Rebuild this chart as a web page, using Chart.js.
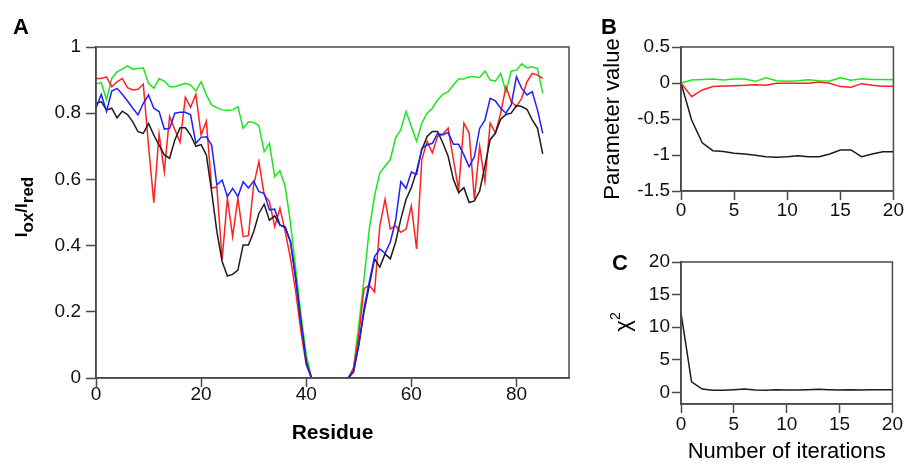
<!DOCTYPE html>
<html>
<head>
<meta charset="utf-8">
<title>Redox titration fit</title>
<script src="https://cdn.jsdelivr.net/npm/chart.js@4.4.0/dist/chart.umd.min.js"></script>
<style>
  html, body { margin: 0; padding: 0; background: #fff; }
  #wrap { position: relative; width: 905px; height: 468px; overflow: hidden; }
  #wrap canvas { position: absolute; }
</style>
</head>
<body>
<div id="wrap">
  <canvas id="chartA" width="600" height="468" style="left:0;top:0"></canvas>
  <canvas id="chartB" width="305" height="234" style="left:600px;top:0"></canvas>
  <canvas id="chartC" width="305" height="234" style="left:600px;top:234px"></canvas>
</div>
<script>
// ---- Panel A: Iox/Ired per residue (null = no data) ----
const residues = [
  0, 1, 2, 3, 4, 5, 6, 7, 8, 9, 10, 11, 12, 13, 14, 15, 16, 17, 18, 19, 20,
  21, 22, 23, 24, 25, 26, 27, 28, 29, 30, 31, 32, 33, 34, 35, 36, 37, 38, 39, 40,
  41, 42, 43, 44, 45, 46, 47, 48, 49, 50, 51, 52, 53, 54, 55, 56, 57, 58, 59, 60,
  61, 62, 63, 64, 65, 66, 67, 68, 69, 70, 71, 72, 73, 74, 75, 76, 77, 78, 79, 80,
  81, 82, 83, 84, 85
];
const ratioBlack = [
  0.83, 0.835, 0.81, 0.815, 0.786, 0.806, 0.796, 0.774, 0.744, 0.739, 0.769, 0.734, 0.704, 0.674, 0.664, 0.719, 0.756, 0.756, 0.734, 0.70, 0.705,
  0.674, 0.563, 0.442, 0.352, 0.308, 0.313, 0.326, 0.402, 0.402, 0.442, 0.497, 0.525, 0.477, 0.49, 0.462, 0.457, 0.412, 0.30, 0.17, 0.05,
  0.0, null, null, null, null, null, null, 0.0, 0.02, 0.10, 0.20, 0.28, 0.36, 0.335, 0.375, 0.36, 0.41, 0.48, 0.54, 0.575,
  0.625, 0.69, 0.73, 0.745, 0.745, 0.71, 0.67, 0.60, 0.56, 0.575, 0.53, 0.535, 0.565, 0.64, 0.72, 0.74, 0.782, 0.796, 0.80, 0.823,
  0.82, 0.812, 0.78, 0.755, 0.677
];
const ratioRed = [
  0.905, 0.905, 0.91, 0.88, 0.895, 0.905, 0.877, 0.87, 0.872, 0.888, 0.70, 0.53, 0.737, 0.623, 0.79, 0.75, 0.712, 0.848, 0.818, 0.857, 0.734,
  0.776, 0.574, 0.577, 0.358, 0.543, 0.427, 0.543, 0.427, 0.43, 0.583, 0.654, 0.553, 0.533, 0.457, 0.513, 0.442, 0.362, 0.261, 0.14, 0.04,
  0.0, null, null, null, null, null, null, 0.0, 0.03, 0.13, 0.27, 0.28, 0.26, 0.46, 0.54, 0.45, 0.46, 0.44, 0.45, 0.52,
  0.39, 0.66, 0.715, 0.68, 0.73, 0.737, 0.755, 0.66, 0.568, 0.77, 0.74, 0.54, 0.70, 0.593, 0.77, 0.74, 0.80, 0.88, 0.835, 0.82,
  0.845, 0.895, 0.92, 0.915, 0.905
];
const ratioGreen = [
  0.887, 0.893, 0.84, 0.905, 0.925, 0.933, 0.943, 0.933, 0.935, 0.937, 0.89, 0.875, 0.904, 0.897, 0.88, 0.88, 0.885, 0.89, 0.885, 0.867, 0.895,
  0.855, 0.825, 0.817, 0.81, 0.808, 0.81, 0.82, 0.754, 0.774, 0.772, 0.762, 0.684, 0.709, 0.608, 0.626, 0.578, 0.47, 0.33, 0.19, 0.07,
  0.0, null, null, null, null, null, null, 0.0, 0.03, 0.16, 0.30, 0.45, 0.55, 0.62, 0.64, 0.66, 0.725, 0.75, 0.805, 0.76,
  0.715, 0.77, 0.80, 0.815, 0.84, 0.857, 0.865, 0.885, 0.903, 0.903, 0.91, 0.91, 0.908, 0.927, 0.90, 0.897, 0.92, 0.865, 0.927, 0.93,
  0.949, 0.937, 0.94, 0.935, 0.86
];
const ratioBlue = [
  0.815, 0.857, 0.805, 0.867, 0.875, 0.857, 0.837, 0.815, 0.795, 0.83, 0.855, 0.815, 0.805, 0.752, 0.754, 0.80, 0.803, 0.803, 0.795, 0.709, 0.727,
  0.729, 0.704, 0.583, 0.598, 0.548, 0.573, 0.548, 0.593, 0.574, 0.595, 0.563, 0.558, 0.508, 0.51, 0.462, 0.454, 0.412, 0.30, 0.17, 0.045,
  0.0, null, null, null, null, null, null, 0.0, 0.018, 0.10, 0.21, 0.29, 0.366, 0.39, 0.377, 0.411, 0.475, 0.593, 0.573, 0.622,
  0.615, 0.694, 0.704, 0.709, 0.739, 0.734, 0.742, 0.706, 0.706, 0.674, 0.638, 0.669, 0.754, 0.779, 0.845, 0.837, 0.815, 0.80, 0.825, 0.91,
  0.875, 0.855, 0.865, 0.81, 0.739
];
const residueTicks = [0, 20, 40, 60, 80];
const ratioTicks = [0, 0.2, 0.4, 0.6, 0.8, 1];

// ---- Panels B and C: fit convergence ----
const iterations = [0, 1, 2, 3, 4, 5, 6, 7, 8, 9, 10, 11, 12, 13, 14, 15, 16, 17, 18, 19, 20];
const paramBlack = [0, -0.514, -0.83, -0.94, -0.95, -0.977, -0.986, -1.005, -1.023, -1.03, -1.023, -1.01, -1.023, -1.023, -0.986, -0.93, -0.93, -1.023, -0.986, -0.954, -0.954];
const paramRed = [0, -0.19, -0.097, -0.05, -0.042, -0.037, -0.032, -0.023, -0.032, -0.005, -0.005, -0.005, -0.005, 0.014, -0.005, -0.05, -0.06, -0.009, -0.03, -0.046, -0.046];
const paramGreen = [0, 0.042, 0.05, 0.056, 0.042, 0.056, 0.056, 0.023, 0.074, 0.032, 0.023, 0.032, 0.046, 0.032, 0.028, 0.074, 0.037, 0.06, 0.05, 0.05, 0.046];
const chiSquare = [12.2, 1.6, 0.5, 0.3, 0.3, 0.4, 0.5, 0.35, 0.3, 0.4, 0.35, 0.35, 0.4, 0.45, 0.4, 0.35, 0.4, 0.35, 0.4, 0.4, 0.4];
const iterTicks = [0, 5, 10, 15, 20];
const paramTicks = [-1.5, -1, -0.5, 0, 0.5];
const chiTicks = [0, 5, 10, 15, 20];

const FONT = '"Liberation Sans", Arial, Helvetica, sans-serif';
const AXIS_COLOR = '#4a4a4a';
const COLORS = { black: '#1c1c1c', red: '#ff2020', green: '#1ee61e', blue: '#1f1fff' };

function series(xs, ys, color) {
  return {
    data: xs.map((x, i) => ({ x: x, y: ys[i] })),
    borderColor: color,
    borderWidth: 1.5,
    pointRadius: 0,
    tension: 0,
    spanGaps: false
  };
}

function fmt(v) {
  return String(+v.toFixed(2));
}

// box around the plot area + any extra text for the panel
function framePlugin(drawExtra) {
  return {
    id: 'frame',
    afterDraw(chart) {
      const { ctx, chartArea: a } = chart;
      ctx.save();
      ctx.strokeStyle = AXIS_COLOR;
      ctx.lineWidth = 1.5;
      ctx.strokeRect(a.left, a.top, a.right - a.left, a.bottom - a.top);
      ctx.restore();
      if (drawExtra) drawExtra(ctx);
    }
  };
}

// draws pieces of rotated text with sub/superscripts
function drawRotated(ctx, cx, cy, parts) {
  ctx.save();
  ctx.translate(cx, cy);
  ctx.rotate(-Math.PI / 2);
  ctx.fillStyle = '#000';
  ctx.textBaseline = 'alphabetic';
  ctx.textAlign = 'left';
  let total = 0;
  parts.forEach(p => { ctx.font = p.font; total += ctx.measureText(p.t).width; });
  let x = -total / 2;
  parts.forEach(p => {
    ctx.font = p.font;
    ctx.fillText(p.t, x, p.dy || 0);
    x += ctx.measureText(p.t).width;
  });
  ctx.restore();
}

function drawLetter(ctx, letter, x, y) {
  ctx.save();
  ctx.font = 'bold 22px ' + FONT;
  ctx.fillStyle = '#000';
  ctx.textBaseline = 'alphabetic';
  ctx.fillText(letter, x, y);
  ctx.restore();
}

function buildChart(canvasId, cfg) {
  const tickFont = { family: FONT, size: 19, lineHeight: 1 };
  return new Chart(document.getElementById(canvasId), {
    type: 'line',
    data: { datasets: cfg.datasets },
    options: {
      responsive: false,
      animation: false,
      devicePixelRatio: 1,
      layout: { padding: cfg.padding },
      plugins: { legend: { display: false }, tooltip: { enabled: false } },
      scales: {
        x: {
          type: 'linear',
          min: cfg.xMin, max: cfg.xMax,
          afterBuildTicks: ax => { ax.ticks = cfg.xTicks.map(v => ({ value: v })); },
          afterFit: ax => { ax.height = cfg.xAxisHeight; },
          grid: { drawOnChartArea: false, drawTicks: true, tickLength: 9, color: AXIS_COLOR, tickWidth: 1.5 },
          border: { display: true, color: AXIS_COLOR, width: 1.5 },
          ticks: { font: tickFont, color: '#111', padding: cfg.xTickPad, maxRotation: 0, autoSkip: false, callback: fmt },
          title: cfg.xTitle || { display: false }
        },
        y: {
          type: 'linear',
          min: cfg.yMin, max: cfg.yMax,
          afterBuildTicks: ax => { ax.ticks = cfg.yTicks.map(v => ({ value: v })); },
          afterFit: ax => { ax.width = cfg.yAxisWidth; },
          grid: { drawOnChartArea: false, drawTicks: true, tickLength: cfg.yTickLen, color: AXIS_COLOR, tickWidth: 1.5 },
          border: { display: true, color: AXIS_COLOR, width: 1.5 },
          ticks: { font: tickFont, color: '#111', padding: cfg.yTickPad, autoSkip: false, callback: fmt },
          title: cfg.yTitle || { display: false }
        }
      }
    },
    plugins: [framePlugin(cfg.extra)]
  });
}

// Panel A
buildChart('chartA', {
  datasets: [
    series(residues, ratioBlue, COLORS.blue),
    series(residues, ratioBlack, COLORS.black),
    series(residues, ratioRed, COLORS.red),
    series(residues, ratioGreen, COLORS.green)
  ],
  padding: { left: 0, top: 47, right: 31, bottom: 0 },
  xMin: 0, xMax: 90, xTicks: residueTicks, xAxisHeight: 90, xTickPad: -2,
  yMin: 0, yMax: 1, yTicks: ratioTicks, yAxisWidth: 96, yTickLen: 10, yTickPad: 5,
  xTitle: { display: true, text: 'Residue', color: '#000', font: { family: FONT, size: 21, weight: 'bold', lineHeight: 1.2 }, padding: { top: 0, bottom: 22 } },
  extra: ctx => {
    drawLetter(ctx, 'A', 13, 34);
    const big = 'bold 17px ' + FONT;
    drawRotated(ctx, 27, 207, [
      { t: 'I', font: big }, { t: 'ox', font: big, dy: 6 },
      { t: '/', font: big }, { t: 'I', font: big }, { t: 'red', font: big, dy: 6 }
    ]);
  }
});

// Panel B
buildChart('chartB', {
  datasets: [
    series(iterations, paramGreen, COLORS.green),
    series(iterations, paramRed, COLORS.red),
    series(iterations, paramBlack, COLORS.black)
  ],
  padding: { left: 0, top: 47, right: 10, bottom: 0 },
  xMin: 0, xMax: 20, xTicks: iterTicks, xAxisHeight: 43, xTickPad: 1,
  yMin: -1.5, yMax: 0.5, yTicks: paramTicks, yAxisWidth: 81, yTickLen: 9, yTickPad: 2,
  yTitle: { display: true, text: 'Parameter value', color: '#000', font: { family: FONT, size: 22, lineHeight: 1.2 }, padding: { top: 0, bottom: 0 } },
  extra: ctx => drawLetter(ctx, 'B', 1, 34)
});

// Panel C
buildChart('chartC', {
  datasets: [series(iterations, chiSquare, COLORS.black)],
  padding: { left: 0, top: 28, right: 10, bottom: 0 },
  xMin: 0, xMax: 20, xTicks: iterTicks, xAxisHeight: 64, xTickPad: 2,
  yMin: -1.8, yMax: 20, yTicks: chiTicks, yAxisWidth: 81, yTickLen: 9, yTickPad: 2,
  xTitle: { display: true, text: 'Number of iterations', color: '#000', font: { family: FONT, size: 22, lineHeight: 1.2 }, padding: { top: 0, bottom: 3 } },
  extra: ctx => {
    drawLetter(ctx, 'C', 12, 36);
    drawRotated(ctx, 30, 88, [
      { t: '\u03c7', font: '22px ' + FONT },
      { t: '2', font: '14px ' + FONT, dy: -10 }
    ]);
  }
});
</script>
</body>
</html>
